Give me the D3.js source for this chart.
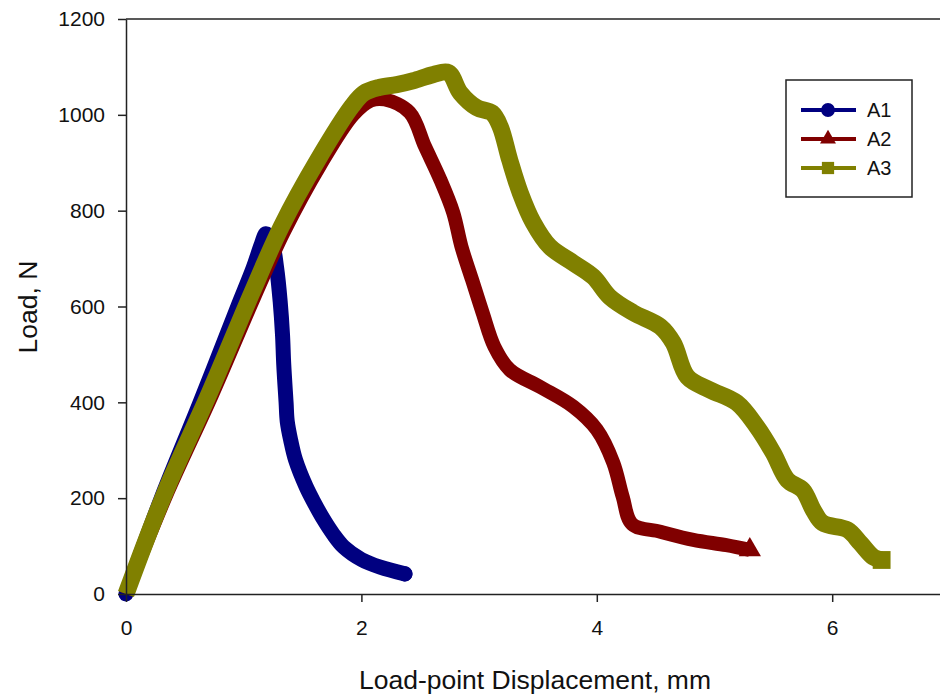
<!DOCTYPE html>
<html>
<head>
<meta charset="utf-8">
<script src="https://cdn.jsdelivr.net/npm/d3@7"></script>
<style>
  body { margin: 0; background: #fff; }
  text { font-family: "Liberation Sans", Arial, sans-serif; fill: #111; }
</style>
</head>
<body>
<svg id="chart" width="940" height="694"></svg>
<script>
var width = 940;
var height = 694;
var margin = {left: 126, top: 19, bottom: 100};
var pxPerMm = 117.7;

// load-point displacement (mm) / load (N)
var a1X = [0, 0.3, 0.63, 0.95, 1.08, 1.15, 1.19, 1.24, 1.28, 1.31, 1.33, 1.34, 1.36, 1.37, 1.40, 1.44, 1.53, 1.60, 1.68, 1.76, 1.85, 2.0, 2.16, 2.37];
var a1Y = [0, 200, 400, 600, 680, 730, 752, 735, 680, 610, 540, 480, 400, 360, 320, 280, 224, 190, 155, 125, 98, 72, 56, 42];

var a2X = [0, 0.34, 0.73, 1.09, 1.34, 1.65, 1.93, 2.08, 2.2, 2.41, 2.54, 2.67, 2.78, 2.85, 2.94, 3.03, 3.13, 3.26, 3.52, 3.80, 4.0, 4.14, 4.22, 4.30, 4.54, 4.82, 5.10, 5.30];
var a2Y = [0, 205, 415, 620, 755, 895, 1000, 1030, 1032, 1005, 934, 865, 796, 725, 656, 587, 516, 468, 432, 391, 343, 274, 203, 146, 130, 113, 102, 92];

var a3X = [0, 0.33, 0.71, 1.07, 1.32, 1.63, 1.92, 2.02, 2.15, 2.3, 2.44, 2.61, 2.74, 2.84, 2.98, 3.11, 3.18, 3.26, 3.35, 3.46, 3.60, 3.80, 3.97, 4.11, 4.31, 4.54, 4.65, 4.77, 4.96, 5.19, 5.36, 5.50, 5.62, 5.75, 5.84, 5.92, 6.13, 6.24, 6.35, 6.42];
var a3Y = [0, 211, 420, 629, 767, 906, 1018, 1045, 1057, 1063, 1071, 1084, 1088, 1046, 1015, 1004, 975, 906, 837, 775, 725, 691, 662, 620, 587, 558, 524, 453, 426, 399, 349, 294, 238, 217, 175, 148, 134, 106, 77, 71];

var seriesNames = ['A1', 'A2', 'A3'];
var seriesColors = ['#000080', '#800000', '#808000'];
var seriesWidths = [15, 14, 17];
var seriesSymbols = [d3.symbolCircle, d3.symbolTriangle, d3.symbolSquare];

var xTicks = [0, 2, 4, 6];
var yTicks = [0, 200, 400, 600, 800, 1000, 1200];

var series = [
  {name: seriesNames[0], points: d3.zip(a1X, a1Y)},
  {name: seriesNames[1], points: d3.zip(a2X, a2Y)},
  {name: seriesNames[2], points: d3.zip(a3X, a3Y)}
];

var x = d3.scaleLinear().domain([0, 7]).range([margin.left, margin.left + 7 * pxPerMm]);
var y = d3.scaleLinear().domain([0, 1200]).range([height - margin.bottom, margin.top]);

var svg = d3.select('#chart');

// frame: top edge runs off the right side like the original
svg.append('line')
  .attr('x1', x(0)).attr('x2', x(7))
  .attr('y1', y(1200)).attr('y2', y(1200))
  .attr('stroke', '#222').attr('stroke-width', 1.5);

var line = d3.line()
  .x(d => x(d[0]))
  .y(d => y(d[1]))
  .curve(d3.curveCatmullRom.alpha(0.5));

var plot = svg.append('g');

series.forEach((s, i) => {
  plot.append('path')
    .datum(s.points)
    .attr('d', line)
    .attr('fill', 'none')
    .attr('stroke', seriesColors[i])
    .attr('stroke-width', seriesWidths[i])
    .attr('stroke-linejoin', 'round')
    .attr('stroke-linecap', i === 0 ? 'round' : 'butt');

  // end marker sits on the last point
  var last = s.points[s.points.length - 1];
  plot.append('path')
    .attr('d', d3.symbol().type(seriesSymbols[i]).size(seriesWidths[i] * seriesWidths[i] * (i === 0 ? 0.8 : 1.1))())
    .attr('transform', 'translate(' + [x(last[0]), y(last[1])] + ')')
    .attr('fill', seriesColors[i]);
});

// axes
var xAxis = svg.append('g')
  .attr('transform', 'translate(0,' + y(0) + ')')
  .call(d3.axisBottom(x).tickValues(xTicks).tickFormat(d3.format('d'))
    .tickSize(8).tickPadding(18).tickSizeOuter(0));

var yAxis = svg.append('g')
  .attr('transform', 'translate(' + x(0) + ',0)')
  .call(d3.axisLeft(y).tickValues(yTicks).tickFormat(d3.format('d'))
    .tickSize(8).tickPadding(13).tickSizeOuter(0));

[xAxis, yAxis].forEach(g => {
  g.select('.domain').attr('stroke', '#222').attr('stroke-width', 1.5);
  g.selectAll('.tick line').attr('stroke', '#222').attr('stroke-width', 1.5);
  g.selectAll('.tick text')
    .attr('font-family', '"Liberation Sans", Arial, sans-serif')
    .attr('font-size', 21)
    .attr('fill', '#111');
});

// axis titles
svg.append('text')
  .attr('x', 535)
  .attr('y', 689)
  .attr('text-anchor', 'middle')
  .attr('font-size', 26.5)
  .text('Load-point Displacement, mm');

svg.append('text')
  .attr('transform', 'translate(37,307)rotate(-90)')
  .attr('text-anchor', 'middle')
  .attr('font-size', 26.5)
  .text('Load, N');

// legend
var legend = svg.append('g').attr('transform', 'translate(786,80)');
legend.append('rect')
  .attr('width', 126).attr('height', 117)
  .attr('fill', '#fff')
  .attr('stroke', '#222').attr('stroke-width', 1.5);

var rows = legend.selectAll('.row')
  .data(seriesNames).enter().append('g')
  .attr('class', 'row')
  .attr('transform', (d, i) => 'translate(0,' + (30 + i * 29) + ')');

rows.append('line')
  .attr('x1', 15).attr('x2', 70)
  .attr('stroke', (d, i) => seriesColors[i])
  .attr('stroke-width', 4);

rows.append('path')
  .attr('d', (d, i) => d3.symbol().type(seriesSymbols[i]).size(i === 1 ? 110 : 150)())
  .attr('transform', 'translate(42,0)')
  .attr('fill', (d, i) => seriesColors[i]);

rows.append('text')
  .attr('x', 81)
  .attr('dy', '0.36em')
  .attr('font-size', 20)
  .text(d => d);
</script>
</body>
</html>
